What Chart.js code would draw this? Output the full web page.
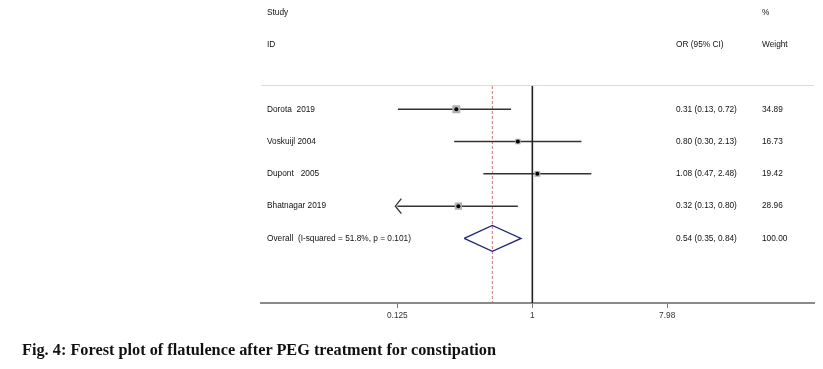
<!DOCTYPE html>
<html>
<head>
<meta charset="utf-8">
<script src="https://cdn.jsdelivr.net/npm/chart.js@4.4.1/dist/chart.umd.min.js"></script>
<style>
  body { margin: 0; background: #fff; }
  #wrap { position: relative; width: 823px; height: 369px; }
  #forest { position: absolute; left: 0; top: 0; }
  #caption {
    position: absolute; left: 22px; top: 340px;
    font: bold 16.3px "Liberation Serif", "Times New Roman", serif;
    color: #111; white-space: nowrap;
  }
</style>
</head>
<body>
<div id="wrap">
  <canvas id="forest" width="823" height="369"></canvas>
  <div id="caption">Fig. 4: Forest plot of flatulence after PEG treatment for constipation</div>
</div>
<script>
// Study rows, top to bottom.
const studies = ["Dorota  2019", "Voskuijl 2004", "Dupont   2005", "Bhatnagar 2019"];
const orValues = [0.31, 0.80, 1.08, 0.32];
const lowerCI = [0.126, 0.30, 0.47, 0.13];
const upperCI = [0.72, 2.13, 2.48, 0.80];
const weights = [34.89, 16.73, 19.42, 28.96];
// CI runs past the axis floor, so Stata draws an arrow there.
const arrowLeft = [false, false, false, true];

// Pooled estimate.
const overallLabel = "Overall  (I-squared = 51.8%, p = 0.101)";
const overallOR = 0.54;
const overallCI = [0.35, 0.84];
const overallWeight = "100.00";

// Axis.
const xTicks = [0.125, 1, 7.98];
const xTickLabels = ["0.125", "1", "7.98"];

const Y_TOP = -0.72;
const Y_BOTTOM = 6.0;
const overallRow = studies.length;
const textFont = '8.3px "Liberation Sans", Arial, sans-serif';

function fmt(v) {
  return v.toFixed(2);
}

// Header, labels, estimates column and arrows.
const tablePlugin = {
  id: "forestTable",
  afterDraw(chart) {
    const { ctx, chartArea, scales: { x, y } } = chart;
    ctx.save();

    ctx.strokeStyle = "#dcdcdc";
    ctx.lineWidth = 1;
    ctx.beginPath();
    ctx.moveTo(chartArea.left, chartArea.top - 0.5);
    ctx.lineTo(chartArea.right, chartArea.top - 0.5);
    ctx.stroke();

    ctx.font = textFont;
    ctx.fillStyle = "#111";
    ctx.textAlign = "left";
    ctx.textBaseline = "middle";
    const colLabel = 267, colOR = 676, colW = 762;

    ctx.fillText("Study", colLabel, y.getPixelForValue(-3));
    ctx.fillText("%", colW, y.getPixelForValue(-3));
    ctx.fillText("ID", colLabel, y.getPixelForValue(-2));
    ctx.fillText("OR (95% CI)", colOR, y.getPixelForValue(-2));
    ctx.fillText("Weight", colW, y.getPixelForValue(-2));

    studies.forEach((name, i) => {
      const py = y.getPixelForValue(i);
      ctx.fillText(name, colLabel, py);
      ctx.fillText(`${fmt(orValues[i])} (${fmt(lowerCI[i])}, ${fmt(upperCI[i])})`, colOR, py);
      ctx.fillText(fmt(weights[i]), colW, py);
    });
    const po = y.getPixelForValue(overallRow);
    ctx.fillText(overallLabel, colLabel, po);
    ctx.fillText(`${fmt(overallOR)} (${fmt(overallCI[0])}, ${fmt(overallCI[1])})`, colOR, po);
    ctx.fillText(overallWeight, colW, po);

    // open arrowheads for clipped intervals
    ctx.strokeStyle = "#333";
    ctx.lineWidth = 1.3;
    studies.forEach((_, i) => {
      if (!arrowLeft[i]) return;
      const tip = x.getPixelForValue(xTicks[0]) - 2;
      const py = y.getPixelForValue(i);
      ctx.beginPath();
      ctx.moveTo(tip + 6, py - 7.5);
      ctx.lineTo(tip, py);
      ctx.lineTo(tip + 6, py + 7.5);
      ctx.stroke();
    });
    ctx.restore();
  }
};

const ciDatasets = studies.map((name, i) => ({
  label: name,
  data: [
    { x: arrowLeft[i] ? xTicks[0] : lowerCI[i], y: i },
    { x: upperCI[i], y: i }
  ],
  showLine: true,
  borderColor: "#333",
  borderWidth: 1.5,
  pointRadius: 0,
  order: 5
}));

const datasets = [
  ...ciDatasets,
  {
    label: "weight boxes",
    data: orValues.map((v, i) => ({ x: v, y: i })),
    pointStyle: "rect",
    pointRadius: weights.map(w => 0.95 * Math.sqrt(w)),
    backgroundColor: "#b0b0b0",
    borderWidth: 0,
    order: 4
  },
  {
    label: "estimates",
    data: orValues.map((v, i) => ({ x: v, y: i })),
    pointStyle: "circle",
    pointRadius: 2,
    backgroundColor: "#000",
    borderWidth: 0,
    order: 1
  },
  {
    label: "no effect",
    data: [{ x: 1, y: Y_TOP }, { x: 1, y: Y_BOTTOM }],
    showLine: true,
    borderColor: "#222",
    borderWidth: 1.6,
    pointRadius: 0,
    order: 2
  },
  {
    label: "overall line",
    data: [{ x: overallOR, y: Y_TOP }, { x: overallOR, y: Y_BOTTOM }],
    showLine: true,
    borderColor: "rgba(195, 95, 95, 0.85)",
    borderWidth: 1,
    borderDash: [3, 2],
    pointRadius: 0,
    order: 6
  },
  {
    label: "overall",
    data: [
      { x: overallCI[0], y: overallRow },
      { x: overallOR, y: overallRow - 0.4 },
      { x: overallCI[1], y: overallRow },
      { x: overallOR, y: overallRow + 0.4 },
      { x: overallCI[0], y: overallRow }
    ],
    showLine: true,
    borderColor: "#1f2378",
    borderWidth: 1.3,
    pointRadius: 0,
    tension: 0,
    order: 3
  }
];

new Chart(document.getElementById("forest"), {
  type: "scatter",
  data: { datasets },
  options: {
    responsive: false,
    animation: false,
    layout: { padding: { left: 261, right: 9, top: 86, bottom: 36 } },
    plugins: { legend: { display: false }, tooltip: { enabled: false } },
    scales: {
      x: {
        type: "logarithmic",
        min: 0.0153,
        max: 76.6,
        afterBuildTicks: s => { s.ticks = xTicks.map(v => ({ value: v })); },
        afterFit: s => { s.height = 30; },
        ticks: {
          autoSkip: false,
          maxRotation: 0,
          padding: 3,
          color: "#333",
          font: { size: 8.3, family: '"Liberation Sans", Arial, sans-serif' },
          callback: (v, i) => xTickLabels[i]
        },
        grid: { drawOnChartArea: false, drawTicks: true, tickLength: 5, color: "#777" },
        border: { display: true, color: "#8a8a8a", width: 2 }
      },
      y: {
        display: false,
        reverse: true,
        min: Y_TOP,
        max: Y_BOTTOM
      }
    }
  },
  plugins: [tablePlugin]
});
</script>
</body>
</html>
